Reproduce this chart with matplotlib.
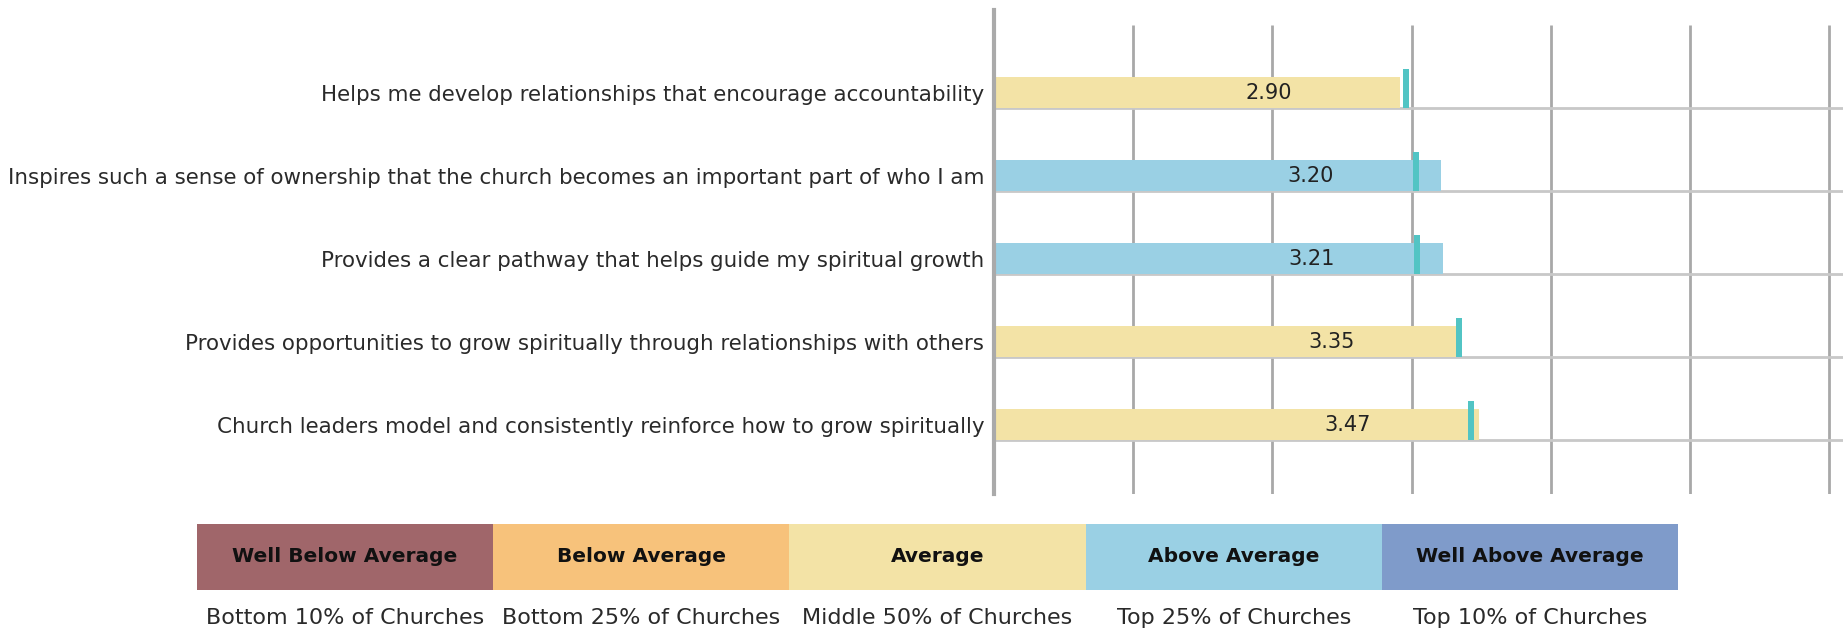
import numpy as np
import matplotlib
matplotlib.use("Agg")
import matplotlib.pyplot as plt

# chart data
items = [
    "Helps me develop relationships that encourage accountability",
    "Inspires such a sense of ownership that the church becomes an important part of who I am",
    "Provides a clear pathway that helps guide my spiritual growth",
    "Provides opportunities to grow spiritually through relationships with others",
    "Church leaders model and consistently reinforce how to grow spiritually",
]
scores = [2.90, 3.20, 3.21, 3.35, 3.47]
benchmarks = [2.96, 3.03, 3.04, 3.34, 3.43]
score_bands = ["Average", "Above Average", "Above Average", "Average", "Average"]

band_names = ["Well Below Average", "Below Average", "Average", "Above Average", "Well Above Average"]
band_notes = ["Bottom 10% of Churches", "Bottom 25% of Churches", "Middle 50% of Churches",
              "Top 25% of Churches", "Top 10% of Churches"]
band_colors = ["#a0666a", "#f7c27b", "#f3e3a6", "#9ad0e4", "#7f9bca"]
x_ticks = [0, 1, 2, 3, 4, 5, 6]

W, H = 1846, 628
fig = plt.figure(figsize=(W / 100, H / 100), dpi=100)

# main bar panel, placed in pixel terms
ax = fig.add_axes([994 / W, (H - 494) / H, (1843 - 994) / W, (494 - 10) / H])
ax.set_xlim(0, 6.1)
ax.set_ylim(4.837, -0.994)

row_h = 0.373
ypos = np.arange(len(items))
color_map = dict(zip(band_names, band_colors))

ax.vlines(x_ticks[1:], -0.81, 4.837, color="#a8a8a8", linewidth=2, zorder=1)
for y in ypos:
    ax.axhline(y + row_h / 2, color="#c8c8c8", linewidth=2, zorder=1)

ax.barh(ypos, scores, height=row_h, left=0.015,
        color=[color_map[b] for b in score_bands], zorder=2)
ax.barh(ypos - 0.048, 0.043, height=0.47, left=np.array(benchmarks) - 0.0215,
        color="#52c4c4", zorder=3)

for y, s in zip(ypos, scores):
    ax.text(s - 0.76, y + 0.01, f"{s:.2f}", ha="right", va="center",
            fontsize=15, color="#222222", zorder=4)

ax.set_yticks(ypos)
ax.set_yticklabels(items, fontsize=15.4, color="#2a2a2a")
ax.tick_params(axis="y", length=0, pad=7)
ax.set_xticks([])
for side in ["top", "right", "bottom"]:
    ax.spines[side].set_visible(False)
ax.spines["left"].set_color("#aaaaaa")
ax.spines["left"].set_linewidth(3)

# legend strip
lax = fig.add_axes([197 / W, (H - 590) / H, (1678 - 197) / W, (590 - 524) / H])
lax.set_xlim(0, len(band_names))
lax.set_ylim(0, 1)
lax.bar(np.arange(len(band_names)), 1, width=1, align="edge", color=band_colors)
for i, (name, note) in enumerate(zip(band_names, band_notes)):
    lax.text(i + 0.5, 0.5, name, ha="center", va="center", fontsize=14.5,
             fontweight="bold", color="#111111")
    lax.text(i + 0.5, -0.42, note, ha="center", va="center", fontsize=16,
             color="#2a2a2a")
lax.axis("off")

fig.savefig("out.png", dpi=100)
